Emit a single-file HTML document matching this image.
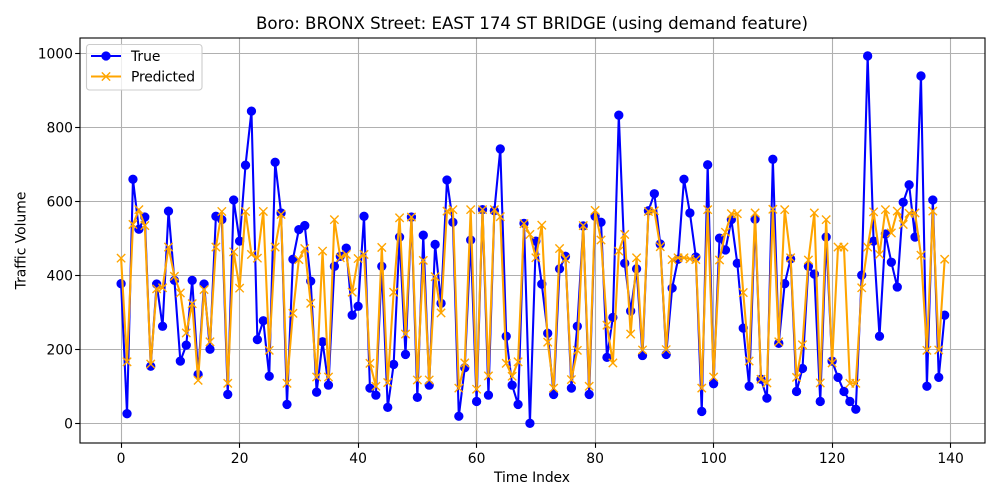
<!DOCTYPE html>
<html>
<head>
<meta charset="utf-8">
<title>Traffic Volume Chart</title>
<style>
html,body{margin:0;padding:0;background:#fff;}
svg{display:block;}
text{font-family:"DejaVu Sans","Liberation Sans",sans-serif;fill:#000;}
</style>
</head>
<body>
<svg id="chart" xmlns="http://www.w3.org/2000/svg" width="1000" height="500" viewBox="0 0 1000 500">
  <rect x="0" y="0" width="1000" height="500" fill="#fff"/>
  <rect x="80" y="38" width="905" height="405" fill="#fff"/>
  <g id="grid"></g>
  <g id="series"></g>
  <g id="axes"></g>
  <text x="532" y="29" font-size="16.67" text-anchor="middle" textLength="552" lengthAdjust="spacing">Boro: BRONX Street: EAST 174 ST BRIDGE (using demand feature)</text>
  <text x="532" y="482" font-size="13.89" text-anchor="middle" textLength="76" lengthAdjust="spacing">Time Index</text>
  <text x="0" y="0" font-size="13.89" text-anchor="middle" transform="translate(25.5,240.5) rotate(-90)">Traffic Volume</text>
  <g>
    <rect x="86.5" y="44.5" width="115.5" height="45.5" rx="3" fill="#fff" fill-opacity="0.8" stroke="#ccc" stroke-width="1.1"/>
    <g>
      <line x1="91" y1="56" x2="121" y2="56" stroke="#0000ff" stroke-width="2.08"/>
      <circle cx="106" cy="56" r="4.2" fill="#0000ff" stroke="#0000ff" stroke-width="0.9"/>
      <text x="131" y="61" font-size="13.89">True</text>
    </g>
    <g>
      <line x1="91" y1="76.5" x2="121" y2="76.5" stroke="#ffa500" stroke-width="2.08"/>
      <path d="M101.83 72.33L110.17 80.67M101.83 80.67L110.17 72.33" stroke="#ffa500" stroke-width="1.39" fill="none"/>
      <text x="131" y="81.5" font-size="13.89" textLength="64" lengthAdjust="spacing">Predicted</text>
    </g>
  </g>
</svg>
<script>
const xTicks = [0, 20, 40, 60, 80, 100, 120, 140];
const yTicks = [0, 200, 400, 600, 800, 1000];
const trueValues = [377,26,659,524,557,154,376,262,573,386,168,211,386,132,376,200,559,550,78,603,492,697,843,226,277,127,705,568,51,443,523,534,384,84,220,103,424,451,473,292,316,559,95,76,424,43,159,503,186,557,70,508,103,483,324,657,543,19,150,495,59,577,76,574,741,235,103,51,540,0,492,376,243,78,417,451,95,262,533,78,559,543,178,286,832,432,303,417,183,574,620,484,186,365,443,659,568,449,32,698,107,500,468,550,432,257,100,551,119,68,713,216,377,444,86,148,424,403,59,503,168,124,86,59,38,400,992,492,235,511,435,368,597,644,503,938,100,603,124,292];
const predictedValues = [446,166,537,577,534,160,363,366,476,397,352,244,323,116,361,220,476,572,108,463,365,572,456,446,572,197,476,564,108,297,442,472,324,125,465,125,550,447,456,354,445,456,162,100,475,110,354,555,241,557,117,440,117,396,298,573,577,95,163,577,92,577,128,577,558,162,127,166,539,510,447,535,219,95,472,444,118,197,534,100,575,495,265,163,465,510,241,447,198,572,574,477,199,442,447,447,444,442,95,577,125,441,516,566,566,353,168,568,119,109,578,220,577,447,124,212,441,568,109,550,163,476,476,108,108,366,476,571,456,577,514,573,537,567,568,454,197,573,198,443];

const NS = 'http://www.w3.org/2000/svg';
const plot = { left: 80, right: 985, top: 38, bottom: 443 };
function xScale(v) { return 121.1 + v * 5.925; }
function yScale(v) { return 423.3 - v * 0.3703; }
function make(tag, attrs, parent) {
  const el = document.createElementNS(NS, tag);
  for (const k in attrs) el.setAttribute(k, attrs[k]);
  parent.appendChild(el);
  return el;
}
const grid = document.getElementById('grid');
const axes = document.getElementById('axes');
const series = document.getElementById('series');
const lineStyle = { stroke: '#b0b0b0', 'stroke-width': 1.1 };
const tickStyle = { stroke: '#000', 'stroke-width': 1.1 };

xTicks.forEach(function (t) {
  const px = Math.floor(xScale(t)) + 0.5;
  const g = make('line', Object.assign({ x1: px, x2: px, y1: plot.top, y2: plot.bottom }, lineStyle), grid);
  
  
  const tick = make('line', Object.assign({ x1: px, x2: px, y1: plot.bottom, y2: plot.bottom + 4.86 }, tickStyle), axes);
  
  
  const label = make('text', { x: xScale(t), y: 463, 'font-size': 13.89, 'text-anchor': 'middle' }, axes);
  label.textContent = String(t);
  
  
});
yTicks.forEach(function (t) {
  const py = Math.floor(yScale(t)) + 0.5;
  const g = make('line', Object.assign({ x1: plot.left, x2: plot.right, y1: py, y2: py }, lineStyle), grid);
  
  
  const tick = make('line', Object.assign({ x1: plot.left - 4.86, x2: plot.left, y1: py, y2: py }, tickStyle), axes);
  
  
  const label = make('text', { x: 73, y: py + 5, 'font-size': 13.89, 'text-anchor': 'end' }, axes);
  label.textContent = String(t);
  
  
});

const frame = make('rect', { x: plot.left, y: plot.top, width: plot.right - plot.left, height: plot.bottom - plot.top, fill: 'none', stroke: '#000', 'stroke-width': 1.1 }, axes);



function pointsOf(values) {
  return values.map(function (v, i) { return xScale(i).toFixed(2) + ',' + yScale(v).toFixed(2); }).join(' ');
}

const trueLine = make('polyline', { points: pointsOf(trueValues), fill: 'none', stroke: '#0000ff', 'stroke-width': 2.08, 'stroke-linejoin': 'round' }, series);


trueValues.forEach(function (v, i) {
  const c = make('circle', { cx: xScale(i), cy: yScale(v), r: 4.2, fill: '#0000ff', stroke: '#0000ff', 'stroke-width': 0.9 }, series);
  
  
});

const predictedLine = make('polyline', { points: pointsOf(predictedValues), fill: 'none', stroke: '#ffa500', 'stroke-width': 2.08, 'stroke-linejoin': 'round' }, series);


predictedValues.forEach(function (v, i) {
  const x = xScale(i), y = yScale(v), s = 4.17;
  const d = 'M' + (x - s) + ' ' + (y - s) + 'L' + (x + s) + ' ' + (y + s) + 'M' + (x - s) + ' ' + (y + s) + 'L' + (x + s) + ' ' + (y - s);
  const m = make('path', { d: d, fill: 'none', stroke: '#ffa500', 'stroke-width': 1.39 }, series);
  
  
});
</script>
</body>
</html>
